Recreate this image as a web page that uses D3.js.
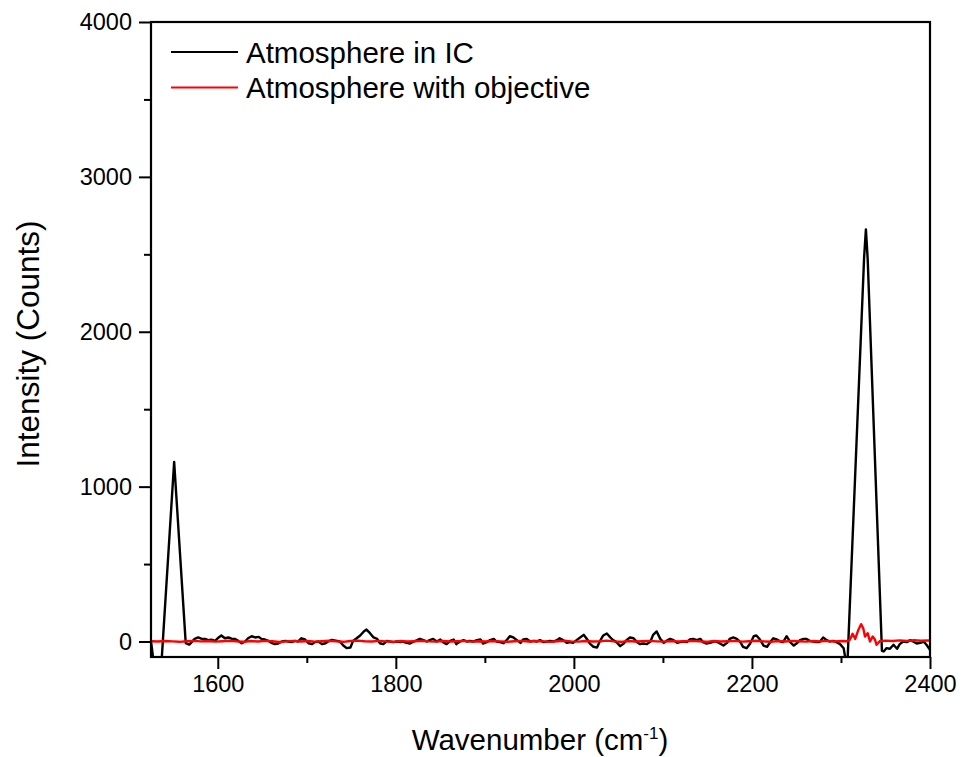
<!DOCTYPE html>
<html>
<head>
<meta charset="utf-8">
<script src="https://cdn.jsdelivr.net/npm/d3@7"></script>
<style>
  html, body { margin: 0; padding: 0; background: #fff; }
  svg text { font-family: Arial, "Liberation Sans", sans-serif; fill: #000; }
</style>
</head>
<body>
<svg id="chart" width="963" height="757"></svg>
<script>
"use strict";

// Atmosphere in IC (black): wavenumber / counts
const icWavenumber = [
    1525, 1534, 1551, 1564, 1568, 1574, 1578, 1582, 1586, 1589, 1593, 1597, 1601, 1604, 1608, 1612,
    1616, 1619, 1623, 1627, 1631, 1634, 1638, 1642, 1646, 1649, 1653, 1657, 1661, 1664, 1668, 1672,
    1676, 1679, 1683, 1687, 1690, 1694, 1698, 1702, 1706, 1709, 1713, 1717, 1721, 1724, 1728, 1734,
    1737, 1741, 1745, 1749, 1752, 1756, 1760, 1764, 1767, 1771, 1775, 1779, 1782, 1786, 1790, 1793,
    1797, 1801, 1805, 1808, 1812, 1816, 1820, 1824, 1827, 1831, 1835, 1838, 1842, 1846, 1850, 1853,
    1857, 1861, 1865, 1868, 1872, 1876, 1880, 1883, 1887, 1891, 1895, 1898, 1902, 1906, 1910, 1913,
    1917, 1921, 1925, 1928, 1932, 1936, 1940, 1943, 1947, 1951, 1955, 1958, 1962, 1966, 1970, 1973,
    1977, 1981, 1984, 1988, 1992, 1996, 1999, 2003, 2007, 2011, 2014, 2018, 2022, 2026, 2029, 2033,
    2037, 2041, 2044, 2048, 2052, 2056, 2059, 2063, 2067, 2071, 2074, 2078, 2082, 2086, 2089, 2093,
    2097, 2101, 2104, 2108, 2112, 2116, 2119, 2123, 2127, 2130, 2134, 2138, 2142, 2145, 2149, 2153,
    2157, 2160, 2164, 2168, 2172, 2175, 2179, 2183, 2187, 2190, 2194, 2198, 2202, 2205, 2209, 2213,
    2217, 2221, 2224, 2228, 2232, 2235, 2239, 2243, 2247, 2250, 2254, 2258, 2261, 2265, 2269, 2272,
    2276, 2280, 2284, 2287, 2291, 2295, 2299, 2303, 2307, 2326, 2328, 2330, 2346, 2348, 2351, 2355,
    2359, 2363, 2366, 2370, 2374, 2378, 2381, 2385, 2389, 2393, 2396, 2400
];
const icCounts = [
    0, -390, 1160, -10, -20, 17, 26, 17, 17, 9, 12, 4, 26, 39, 21, 26,
    17, 17, 4, -11, 2, 21, 34, 26, 30, 17, 13, 4, -11, -17, -13, 0,
    4, 0, -4, 4, 0, 21, 13, -11, -17, -4, 0, -17, -11, 0, 10, 4,
    0, -26, -43, -39, 4, 21, 39, 65, 77, 54, 26, 17, -11, -17, 4, 0,
    -4, 0, -4, 0, -9, -13, 0, 9, 17, 9, 0, 9, 17, 0, 13, -4,
    -17, 4, 13, -17, 0, 9, 0, 4, 0, 9, 13, -13, -4, 9, 17, 0,
    -4, -11, 13, 34, 26, 9, -9, 13, 17, 0, 4, 0, 9, -4, 0, 4,
    0, 9, 21, 9, -9, -4, -9, 9, 26, 43, 21, -13, -34, -39, 0, 39,
    52, 26, 9, -4, -30, -13, 9, 26, 21, -4, -17, -13, -17, 0, 43, 65,
    17, -9, 4, 17, 9, -9, -4, 0, -4, 13, 17, 9, 17, -4, -13, -9,
    0, 0, -13, -26, -9, 17, 26, 17, -4, -34, -43, -13, 34, 39, 13, -26,
    -34, 0, 21, 13, 0, -4, 34, -4, -26, -13, 9, 17, 17, 4, 0, -4,
    -4, 26, 9, 0, 4, -4, -17, -43, -180, 2480, 2661, 2470, -60, -64, -43, -47,
    -21, -47, -17, 0, -4, 9, 0, -13, -9, 0, -21, -54
];

// Atmosphere with objective (red): wavenumber / counts
const objWavenumber = [
    1525, 1533, 1541, 1549, 1557, 1565, 1573, 1581, 1589, 1597, 1605, 1613, 1621, 1629, 1637, 1645,
    1653, 1661, 1669, 1677, 1685, 1693, 1701, 1709, 1717, 1725, 1733, 1741, 1749, 1757, 1765, 1773,
    1781, 1789, 1797, 1805, 1813, 1821, 1829, 1837, 1845, 1853, 1861, 1869, 1877, 1885, 1893, 1901,
    1909, 1917, 1925, 1933, 1941, 1949, 1957, 1965, 1973, 1981, 1989, 1997, 2005, 2013, 2021, 2029,
    2037, 2045, 2053, 2061, 2069, 2077, 2085, 2093, 2101, 2109, 2117, 2125, 2133, 2141, 2149, 2157,
    2165, 2173, 2181, 2189, 2197, 2205, 2213, 2221, 2229, 2237, 2245, 2253, 2261, 2269, 2277, 2285,
    2293, 2301, 2307, 2310, 2313, 2316, 2319.5, 2322.6, 2325, 2327, 2330, 2332.6, 2335.6, 2338, 2340, 2344,
    2350, 2358, 2366, 2374, 2382, 2390, 2398, 2400
];
const objCounts = [
    2, 0, 3, 1, -2, 2, 4, 1, 3, -1, 2, 5, 1, -2, 3, 0,
    4, 2, -3, 1, 4, 0, 3, -1, 2, 5, 1, -2, 3, 6, 2, 0,
    4, 1, -2, 3, 0, 2, 5, 1, -1, 3, 0, 2, 4, -1, 2, 0,
    3, 1, -2, 2, 4, 0, 3, 1, -2, 2, 5, 1, -1, 3, 0, 2,
    6, 1, -2, 3, 0, 2, 4, 1, -1, 3, 0, 2, 5, 1, -2, 3,
    0, 2, 4, -1, 2, 5, 1, -2, 3, 0, 4, 2, -1, 3, 1, 4,
    0, 3, 2, 11, 50, 17, 75, 112, 86, 32, 54, 0, 32, 15, -21, 4,
    6, 3, 7, 4, 8, 5, 7, 6
];

// Axis ticks
const xMajorTicks = [1600, 1800, 2000, 2200, 2400];
const xMinorTicks = [1700, 1900, 2100, 2300];
const yMajorTicks = [0, 1000, 2000, 3000, 4000];
const yMinorTicks = [500, 1500, 2500, 3500];

const seriesNames = ["Atmosphere in IC", "Atmosphere with objective"];
const seriesColors = ["#000000", "#ff0000"];

const plot = {left: 151, right: 930, top: 22, bottom: 657};

const svg = d3.select("#chart");

const x = d3.scaleLinear().domain([1525, 2400]).range([plot.left, plot.right]);
const y = d3.scaleLinear().domain([-100, 4000]).range([plot.bottom, plot.top]);

svg.append("defs").append("clipPath")
    .attr("id", "plotClip")
    .append("rect")
    .attr("x", plot.left)
    .attr("y", plot.top)
    .attr("width", plot.right - plot.left)
    .attr("height", plot.bottom - plot.top);

// Axes
function styleAxis(g) {
    g.select(".domain").remove();
    g.selectAll(".tick line").attr("stroke", "#000").attr("stroke-width", 2);
    g.selectAll(".tick text").style("font-size", "23.5px").attr("fill", "#000");
}

svg.append("g")
    .attr("transform", `translate(${plot.left},0)`)
    .call(d3.axisLeft(y).tickValues(yMajorTicks).tickSize(12).tickPadding(7).tickFormat(d3.format("d")))
    .call(styleAxis);

svg.append("g")
    .attr("transform", `translate(${plot.left},0)`)
    .call(d3.axisLeft(y).tickValues(yMinorTicks).tickSize(7).tickFormat(""))
    .call(styleAxis);

svg.append("g")
    .attr("transform", `translate(0,${plot.bottom})`)
    .call(d3.axisBottom(x).tickValues(xMajorTicks).tickSize(12).tickPadding(6).tickFormat(d3.format("d")))
    .call(styleAxis);

svg.append("g")
    .attr("transform", `translate(0,${plot.bottom})`)
    .call(d3.axisBottom(x).tickValues(xMinorTicks).tickSize(6).tickFormat(""))
    .call(styleAxis);

// Lines
const line = d3.line()
    .x((d) => x(d[0]))
    .y((d) => y(d[1]));

const lines = svg.append("g").attr("clip-path", "url(#plotClip)");

lines.append("path")
    .datum(icWavenumber.map((w, i) => [w, icCounts[i]]))
    .attr("fill", "none")
    .attr("stroke", seriesColors[0])
    .attr("stroke-width", 2.4)
    .attr("stroke-linejoin", "round")
    .attr("d", line);

lines.append("path")
    .datum(objWavenumber.map((w, i) => [w, objCounts[i]]))
    .attr("fill", "none")
    .attr("stroke", seriesColors[1])
    .attr("stroke-width", 2.4)
    .attr("stroke-linejoin", "round")
    .attr("d", line);

// Frame
svg.append("rect")
    .attr("x", plot.left)
    .attr("y", plot.top)
    .attr("width", plot.right - plot.left)
    .attr("height", plot.bottom - plot.top)
    .attr("fill", "none")
    .attr("stroke", "#000")
    .attr("stroke-width", 2.2);

// Axis titles
svg.append("text")
    .attr("transform", "translate(28,344) rotate(-90)")
    .attr("text-anchor", "middle")
    .attr("dominant-baseline", "central")
    .style("font-size", "31.5px")
    .text("Intensity (Counts)");

const xTitle = svg.append("text")
    .attr("x", 540)
    .attr("y", 750)
    .attr("text-anchor", "middle")
    .style("font-size", "29.5px");
xTitle.append("tspan").text("Wavenumber (cm");
xTitle.append("tspan").attr("dy", -11).style("font-size", "17px").text("-1");
xTitle.append("tspan").attr("dy", 11).text(")");

// Legend
const legend = svg.append("g");
seriesNames.forEach((name, i) => {
    const ly = 52 + i * 35.5;
    legend.append("line")
        .attr("x1", 171).attr("x2", 238)
        .attr("y1", ly).attr("y2", ly)
        .attr("stroke", seriesColors[i])
        .attr("stroke-width", 2.2);
    legend.append("text")
        .attr("x", 246)
        .attr("y", ly)
        .attr("dominant-baseline", "central")
        .style("font-size", "29.5px")
        .text(name);
});
</script>
</body>
</html>
